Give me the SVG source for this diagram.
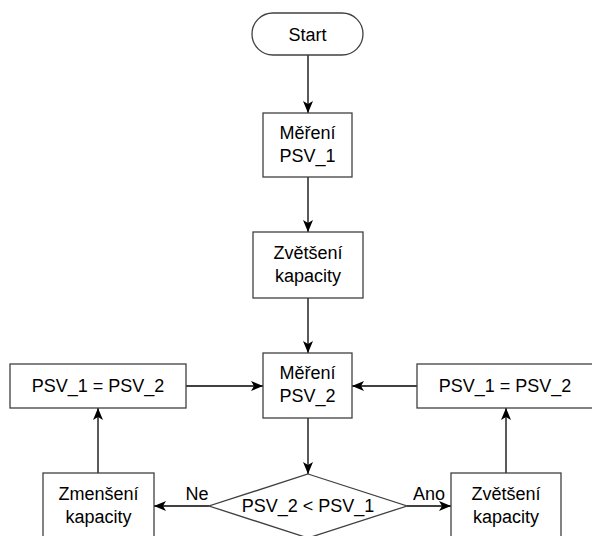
<svg xmlns="http://www.w3.org/2000/svg" width="592" height="536" viewBox="0 0 592 536">
<style>
.n{fill:#fff;stroke:#404040;stroke-width:1.3}
.t{font-family:"Liberation Sans",Arial,sans-serif;font-size:18px;fill:#000;text-anchor:middle}
.c{stroke:#000;stroke-width:1.3;fill:none;marker-end:url(#a)}
</style>
<defs>
<marker id="a" viewBox="0 0 12 10" refX="12" refY="5" markerWidth="12" markerHeight="10" markerUnits="userSpaceOnUse" orient="auto">
<path d="M0,0 L12,5 L0,10 L3,5 z" fill="#000"/>
</marker>
</defs>
<rect width="592" height="536" fill="#fff"/>
<g id="connectors">
<line class="c" x1="308" y1="55" x2="308" y2="113"/>
<line class="c" x1="308" y1="177" x2="308" y2="232"/>
<line class="c" x1="308" y1="298" x2="308" y2="353"/>
<line class="c" x1="186" y1="386" x2="263" y2="386"/>
<line class="c" x1="417" y1="386" x2="352" y2="386"/>
<line class="c" x1="308" y1="418" x2="308" y2="474"/>
<line class="c" x1="209" y1="506" x2="154" y2="506"/>
<line class="c" x1="407" y1="506" x2="451" y2="506"/>
<line class="c" x1="98" y1="473" x2="98" y2="408"/>
<line class="c" x1="506" y1="473" x2="506" y2="408"/>
<text class="t" x="197" y="500">Ne</text>
<text class="t" x="429" y="500">Ano</text>
</g>
<g id="start">
<rect class="n" x="252" y="13" width="111" height="42" rx="21" ry="21"/>
<text class="t" x="307.5" y="41">Start</text>
</g>
<g id="mereni1">
<rect class="n" x="263" y="113" width="89" height="64"/>
<text class="t" x="307.5" y="139">Měření</text>
<text class="t" x="307.5" y="162">PSV_1</text>
</g>
<g id="zvetseni1">
<rect class="n" x="253" y="232" width="110" height="66"/>
<text class="t" x="308" y="259">Zvětšení</text>
<text class="t" x="308" y="282">kapacity</text>
</g>
<g id="mereni2">
<rect class="n" x="263" y="353" width="89" height="65"/>
<text class="t" x="307.5" y="379">Měření</text>
<text class="t" x="307.5" y="402">PSV_2</text>
</g>
<g id="rovno-levy">
<rect class="n" x="10" y="364" width="176" height="44"/>
<text class="t" x="98" y="392">PSV_1 = PSV_2</text>
</g>
<g id="rovno-pravy">
<rect class="n" x="417" y="364" width="176" height="44"/>
<text class="t" x="505" y="392">PSV_1 = PSV_2</text>
</g>
<g id="rozhodnuti">
<polygon class="n" points="308,474 407,506 308,538 209,506"/>
<text class="t" x="308" y="512">PSV_2 &lt; PSV_1</text>
</g>
<g id="zmenseni">
<rect class="n" x="43" y="473" width="111" height="65"/>
<text class="t" x="98.5" y="500">Zmenšení</text>
<text class="t" x="98.5" y="523">kapacity</text>
</g>
<g id="zvetseni2">
<rect class="n" x="451" y="473" width="110" height="65"/>
<text class="t" x="506" y="500">Zvětšení</text>
<text class="t" x="506" y="523">kapacity</text>
</g>
</svg>
